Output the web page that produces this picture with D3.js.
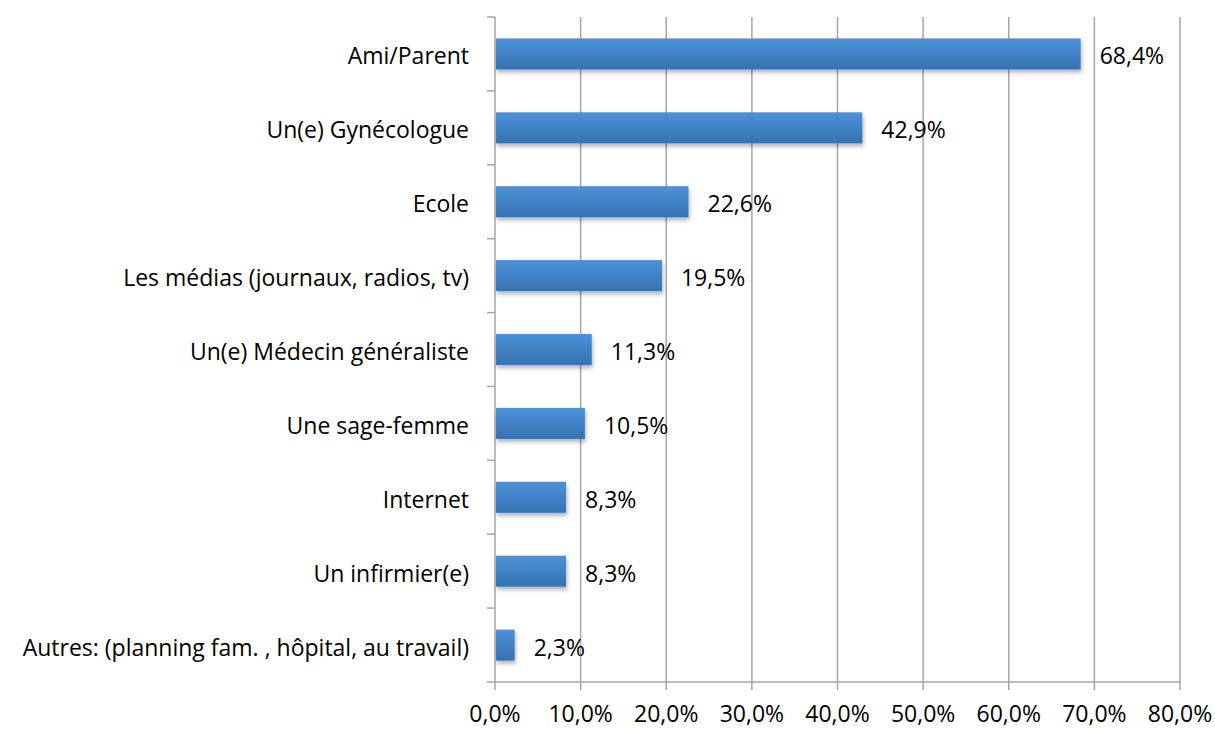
<!DOCTYPE html>
<html><head><meta charset="utf-8">
<script src="https://cdn.jsdelivr.net/npm/d3@7"></script>
<style>body{margin:0;background:#fff}svg{display:block}text{font-family:"Open Sans",sans-serif;fill:#000}</style>
</head><body>
<script>
const categories = ["Ami/Parent","Un(e) Gynécologue","Ecole","Les médias (journaux, radios, tv)","Un(e) Médecin généraliste ","Une sage-femme","Internet","Un infirmier(e)","Autres: (planning fam. , hôpital, au travail)"];
const values = [68.4,42.9,22.6,19.5,11.3,10.5,8.3,8.3,2.3];
const valueLabels = ["68,4%","42,9%","22,6%","19,5%","11,3%","10,5%","8,3%","8,3%","2,3%"];
const ticks = [0,10,20,30,40,50,60,70,80];
const tickLabels = ["0,0%","10,0%","20,0%","30,0%","40,0%","50,0%","60,0%","70,0%","80,0%"];

const W=1215,H=729, FS=23;
const svg=d3.select("body").append("svg").attr("width",W).attr("height",H);
const defs=svg.append("defs");
const g1=defs.append("linearGradient").attr("id","bg").attr("x1",0).attr("y1",0).attr("x2",0).attr("y2",1);
g1.append("stop").attr("offset","0%").attr("stop-color","#4b92da");
g1.append("stop").attr("offset","100%").attr("stop-color","#3672b1");
const f=defs.append("filter").attr("id","sh").attr("x","-10%").attr("y","-20%").attr("width","130%").attr("height","160%");
f.append("feDropShadow").attr("dx",1).attr("dy",3).attr("stdDeviation",2).attr("flood-color","#000").attr("flood-opacity",0.3);

const x=d3.scaleLinear().domain([0,80]).range([495,1180]);
const y=d3.scaleBand().domain(categories).range([17,682]).paddingInner(0.58).paddingOuter(0.29);
const grid="#a6a6a6";

svg.append("g").selectAll("line").data(ticks.slice(1)).join("line")
 .attr("x1",d=>x(d)).attr("x2",d=>x(d)).attr("y1",17).attr("y2",690)
 .attr("stroke",grid).attr("stroke-width",1.5);
svg.append("line").attr("x1",x(0)).attr("x2",x(80)).attr("y1",682).attr("y2",682).attr("stroke",grid).attr("stroke-width",1.5);
svg.append("line").attr("x1",x(0)).attr("x2",x(0)).attr("y1",17).attr("y2",690).attr("stroke",grid).attr("stroke-width",1.5);
const bounds=d3.range(categories.length+1).map(i=>17+i*(665/categories.length));
svg.append("g").selectAll("line").data(bounds).join("line")
 .attr("x1",487).attr("x2",x(0)).attr("y1",d=>d).attr("y2",d=>d).attr("stroke",grid).attr("stroke-width",1.5);

svg.append("g").selectAll("rect").data(values).join("rect")
 .attr("x",x(0)+1).attr("y",(d,i)=>y(categories[i]))
 .attr("width",d=>x(d)-x(0)-1).attr("height",y.bandwidth())
 .attr("fill","url(#bg)").attr("filter","url(#sh)");

svg.append("g").selectAll("text").data(categories).join("text")
 .attr("x",469).attr("y",d=>y(d)+y.bandwidth()/2+10.5)
 .attr("text-anchor","end").attr("font-size",FS).text(d=>d);
svg.append("g").selectAll("text").data(values).join("text")
 .attr("x",d=>x(d)+19).attr("y",(d,i)=>y(categories[i])+y.bandwidth()/2+10.5)
 .attr("font-size",FS).text((d,i)=>valueLabels[i]);
svg.append("g").selectAll("text").data(ticks).join("text")
 .attr("x",d=>x(d)).attr("y",722).attr("text-anchor","middle")
 .attr("font-size",FS).text((d,i)=>tickLabels[i]);
</script>
</body></html>
